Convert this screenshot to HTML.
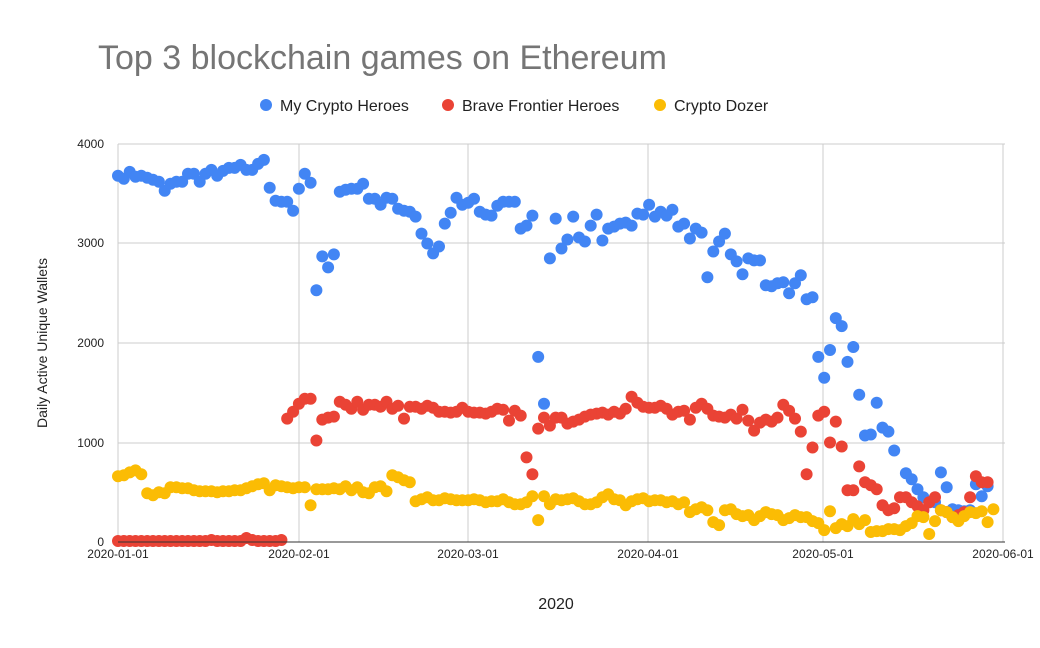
<!DOCTYPE html>
<html><head><meta charset="utf-8"><style>
body{margin:0;background:#fff;width:1040px;height:643px;overflow:hidden}
svg{font-family:"Liberation Sans",Arial,sans-serif}
</style></head><body>
<svg id="s" width="1040" height="643" viewBox="0 0 1040 643">
<rect width="1040" height="643" fill="#fff"/>
<text x="98" y="69" font-size="34" fill="#757575">Top 3 blockchain games on Ethereum</text>
<circle cx="266" cy="105" r="6" fill="#4285f4"/><text x="280" y="111" font-size="16" fill="#222">My Crypto Heroes</text>
<circle cx="448" cy="105" r="6" fill="#ea4335"/><text x="462" y="111" font-size="16" fill="#222">Brave Frontier Heroes</text>
<circle cx="660" cy="105" r="6" fill="#fbbc04"/><text x="674" y="111" font-size="16" fill="#222">Crypto Dozer</text>
<g stroke="#ccc" stroke-width="1">
<line x1="118" y1="144" x2="1005" y2="144"/><line x1="118" y1="243" x2="1005" y2="243"/>
<line x1="118" y1="343" x2="1005" y2="343"/><line x1="118" y1="443" x2="1005" y2="443"/>
<line x1="118" y1="144" x2="118" y2="542"/><line x1="299" y1="144" x2="299" y2="542"/>
<line x1="468" y1="144" x2="468" y2="542"/><line x1="648" y1="144" x2="648" y2="542"/>
<line x1="823" y1="144" x2="823" y2="542"/><line x1="1003" y1="144" x2="1003" y2="542"/>
</g>
<g font-size="12" fill="#222" text-anchor="end">
<text x="104" y="148">4000</text><text x="104" y="247">3000</text><text x="104" y="347">2000</text><text x="104" y="447">1000</text><text x="104" y="546">0</text>
</g>
<g font-size="12" fill="#222" text-anchor="middle">
<text x="118" y="558">2020-01-01</text><text x="299" y="558">2020-02-01</text><text x="468" y="558">2020-03-01</text><text x="648" y="558">2020-04-01</text><text x="823" y="558">2020-05-01</text><text x="1003" y="558">2020-06-01</text>
</g>
<text x="556" y="609" font-size="16" fill="#222" text-anchor="middle">2020</text>
<text transform="translate(47,343) rotate(-90)" font-size="14" fill="#222" text-anchor="middle">Daily Active Unique Wallets</text>
<g id="pts"></g>
<line x1="118" y1="542" x2="1005" y2="542" stroke="#333" stroke-width="1"/>
</svg>
<script>
var B=[3680,3650,3720,3670,3680,3660,3640,3620,3530,3600,3620,3620,3700,3700,3620,3700,3740,3680,3730,3760,3760,3790,3740,3740,3800,3840,3560,3430,3420,3420,3330,3550,3700,3610,2530,2870,2760,2890,3520,3540,3550,3550,3600,3450,3450,3390,3460,3450,3350,3330,3320,3270,3100,3000,2900,2970,3200,3310,3460,3390,3410,3450,3320,3290,3280,3380,3420,3420,3420,3150,3180,3280,1860,1390,2850,3250,2950,3040,3270,3060,3020,3180,3290,3030,3150,3170,3200,3210,3180,3300,3290,3390,3270,3320,3280,3340,3170,3200,3050,3150,3110,2660,2920,3020,3100,2890,2820,2690,2850,2830,2830,2580,2570,2600,2610,2500,2600,2680,2440,2460,1860,1650,1930,2250,2170,1810,1960,1480,1070,1080,1400,1150,1110,920,null,690,630,530,450,400,400,700,550,330,320,310,320,580,460,560];
var R=[10,10,10,10,10,10,10,10,10,10,10,10,10,10,10,10,20,10,10,10,10,10,40,20,10,10,10,10,20,1240,1310,1390,1440,1440,1020,1230,1250,1260,1410,1380,1340,1410,1330,1380,1380,1360,1410,1340,1370,1240,1360,1360,1340,1370,1350,1310,1310,1300,1310,1350,1310,1300,1300,1290,1310,1340,1330,1220,1320,1270,850,680,1140,1250,1170,1250,1250,1190,1210,1230,1260,1280,1290,1300,1280,1310,1290,1340,1460,1400,1360,1350,1350,1370,1340,1280,1310,1320,1230,1350,1390,1340,1270,1260,1250,1280,1240,1330,1220,1120,1200,1230,1210,1250,1380,1320,1240,1110,680,950,1270,1310,1000,1210,960,520,520,760,600,570,530,370,320,340,450,450,400,360,320,400,450,320,300,250,270,300,450,660,600,600];
var Y=[660,670,700,720,680,490,470,500,490,550,550,540,540,520,510,510,510,500,510,510,520,520,540,560,580,590,520,570,560,550,540,550,550,370,530,530,530,540,530,560,520,550,500,490,550,560,510,670,650,620,600,410,430,450,420,420,440,430,420,420,420,430,420,400,410,410,430,400,380,380,400,460,220,460,380,430,420,430,440,410,380,380,400,450,480,430,420,370,410,430,440,410,420,420,400,410,380,400,300,330,350,320,200,170,320,330,280,260,270,220,260,300,280,270,220,240,270,250,250,210,190,120,310,140,180,160,230,180,220,100,110,110,130,130,120,160,190,260,250,80,210,320,300,250,210,260,300,290,310,200,330];
var g=document.getElementById('pts'),h='';
function add(a,c,off){for(var i=0;i<a.length;i++){if(a[i]==null)continue;var x=118+(i+(off||0))*5.836,y=542-a[i]*0.0995;h+='<circle cx="'+x.toFixed(1)+'" cy="'+y.toFixed(1)+'" r="6" fill="'+c+'"/>';}}
add(B,'#4285f4');add(R,'#ea4335');add(Y,'#fbbc04');
g.innerHTML=h;
</script>
</body></html>
